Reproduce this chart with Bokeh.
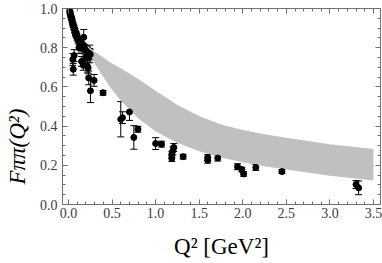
from bokeh.plotting import figure
from bokeh.models import (ColumnDataSource, Whisker, LinearAxis, Range1d, Title,
                          SingleIntervalTicker, PrintfTickFormatter, TeeHead)
from bokeh.embed import file_html
from bokeh.resources import INLINE

# ---- theory band ----
band_q2 = [0.22, 0.3, 0.4, 0.5, 0.6, 0.7, 0.8, 1.0, 1.25, 1.5, 1.75, 2.0, 2.25, 2.5, 3.0, 3.5]
band_hi = [0.81, 0.78, 0.75, 0.72, 0.695, 0.668, 0.64, 0.58, 0.508, 0.452, 0.408, 0.38, 0.358, 0.34, 0.308, 0.283]
band_lo = [0.79, 0.72, 0.65, 0.585, 0.53, 0.485, 0.44, 0.372, 0.315, 0.272, 0.24, 0.215, 0.195, 0.178, 0.147, 0.122]

# ---- low-Q2 dense data ----
q2_a = [0.015, 0.02, 0.025, 0.03, 0.035, 0.04, 0.045, 0.05, 0.055, 0.06, 0.065, 0.07,
        0.075, 0.08, 0.085, 0.09, 0.095, 0.10, 0.11, 0.12, 0.13, 0.14, 0.15, 0.16,
        0.17, 0.18, 0.19, 0.20, 0.21, 0.22, 0.23, 0.24, 0.25]
f_a = [0.985, 0.975, 0.965, 0.955, 0.95, 0.94, 0.93, 0.92, 0.915, 0.905, 0.90, 0.89,
       0.885, 0.875, 0.87, 0.865, 0.86, 0.85, 0.84, 0.835, 0.825, 0.82, 0.81, 0.805,
       0.80, 0.795, 0.79, 0.785, 0.78, 0.775, 0.77, 0.77, 0.765]
e_a = [0.008, 0.008, 0.008, 0.009, 0.009, 0.009, 0.01, 0.01, 0.01, 0.011, 0.011, 0.012,
       0.012, 0.013, 0.013, 0.014, 0.014, 0.015, 0.016, 0.017, 0.018, 0.019, 0.02, 0.02,
       0.021, 0.022, 0.022, 0.023, 0.024, 0.025, 0.025, 0.026, 0.027]

# ---- older / scattered data ----
q2_b = [0.05, 0.055, 0.065, 0.12, 0.15, 0.17, 0.175, 0.20, 0.217, 0.225, 0.232, 0.244,
        0.252, 0.294, 0.397]
f_b = [0.74, 0.69, 0.76, 0.80, 0.73, 0.71, 0.853, 0.75, 0.705, 0.697, 0.646, 0.768,
       0.58, 0.633, 0.57]
e_b = [0.03, 0.03, 0.03, 0.03, 0.025, 0.025, 0.04, 0.03, 0.03, 0.03, 0.035, 0.045,
       0.06, 0.03, 0.012]

# ---- high-Q2 data ----
q2_c = [0.60, 0.62, 0.70, 0.75, 0.797, 1.0, 1.068, 1.186, 1.186, 1.198, 1.209, 1.316,
        1.598, 1.598, 1.713, 1.94, 1.99, 2.01, 2.15, 2.45, 3.30, 3.33]
f_c = [0.435, 0.443, 0.472, 0.342, 0.384, 0.311, 0.308, 0.235, 0.257, 0.274, 0.291, 0.244,
       0.24, 0.226, 0.237, 0.193, 0.178, 0.156, 0.189, 0.168, 0.102, 0.085]
e_c = [0.09, 0.03, 0.043, 0.06, 0.015, 0.03, 0.015, 0.015, 0.015, 0.02, 0.02, 0.012,
       0.015, 0.015, 0.015, 0.015, 0.012, 0.012, 0.015, 0.01, 0.02, 0.035]

x_tick_interval = 0.5
y_tick_interval = 0.2
x_title = "Q² [GeV²]"
y_title = "Fππ(Q²)"

q2 = q2_a + q2_b + q2_c
ff = f_a + f_b + f_c
ee = e_a + e_b + e_c
src = ColumnDataSource(dict(x=q2, y=ff,
                            lo=[f - e for f, e in zip(ff, ee)],
                            hi=[f + e for f, e in zip(ff, ee)]))

FRAME = "#707070"
TXT = "#3c3c3c"
SERIF = "Liberation Serif"

p = figure(width=382, height=263, output_backend="svg", toolbar_location=None,
           x_range=Range1d(-0.0686, 3.581), y_range=Range1d(0.0, 1.0),
           x_axis_type=None, y_axis_type=None,
           min_border_left=61, min_border_right=2, min_border_top=8, min_border_bottom=59)
p.outline_line_color = FRAME
p.background_fill_color = "white"
p.border_fill_color = "white"

p.varea(x=band_q2, y1=band_lo, y2=band_hi, fill_color="#c0c0c0", fill_alpha=1.0)

wh = Whisker(source=src, base="x", lower="lo", upper="hi", dimension="height",
             line_color="black", line_width=1,
             lower_head=TeeHead(size=7, line_color="black", line_width=1),
             upper_head=TeeHead(size=7, line_color="black", line_width=1))
p.add_layout(wh)
p.scatter("x", "y", source=src, size=6, color="black")


def make_axis(interval, nminor, labelled, standoff=5):
    ax = LinearAxis(ticker=SingleIntervalTicker(interval=interval, num_minor_ticks=nminor),
                    formatter=PrintfTickFormatter(format="%.1f"))
    ax.major_tick_in = 5
    ax.major_tick_out = 0
    ax.minor_tick_in = 3
    ax.minor_tick_out = 0
    ax.axis_line_color = FRAME
    ax.major_tick_line_color = FRAME
    ax.minor_tick_line_color = FRAME
    if labelled:
        ax.major_label_text_font = SERIF
        ax.major_label_text_font_size = "14px"
        ax.major_label_text_color = TXT
        ax.major_label_standoff = standoff
    else:
        ax.major_label_text_color = None
        ax.major_label_text_font_size = "0px"
        ax.major_label_standoff = 0
    return ax


xb = make_axis(x_tick_interval, 5, True, standoff=3)
xb.axis_label = x_title
xb.axis_label_text_font = SERIF
xb.axis_label_text_font_size = "23px"
xb.axis_label_text_font_style = "normal"
xb.axis_label_text_color = "black"
xb.axis_label_standoff = 13

yl = make_axis(y_tick_interval, 4, True, standoff=5)

p.add_layout(xb, "below")
p.add_layout(yl, "left")

ax_top = make_axis(x_tick_interval, 5, False)
ax_top.fixed_location = 1.0
ax_right = make_axis(y_tick_interval, 4, False)
ax_right.fixed_location = 3.581
p.add_layout(ax_top, "above")
p.add_layout(ax_right, "right")

ytitle = Title(text=y_title, align="left", offset=20, vertical_align="top", standoff=9,
               text_font=SERIF, text_font_size="23px", text_font_style="italic",
               text_color="black")
p.add_layout(ytitle, "left")

open("out.html", "w").write(file_html(p, INLINE))
